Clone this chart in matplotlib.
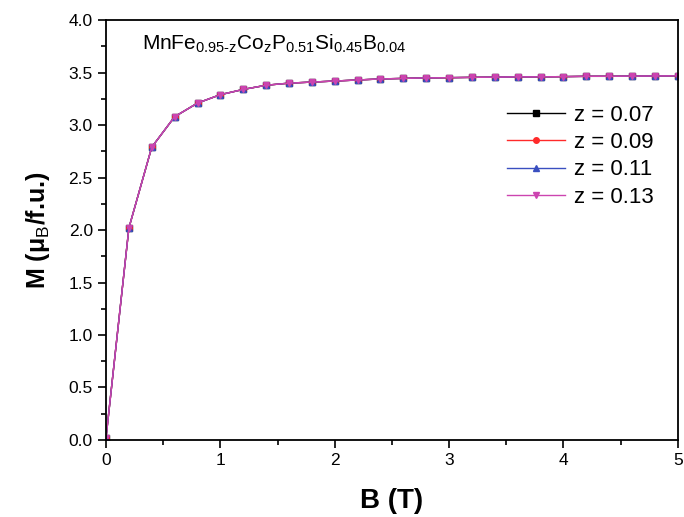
import matplotlib
matplotlib.use("Agg")
import matplotlib.pyplot as plt
from matplotlib.ticker import MultipleLocator, FormatStrFormatter

plt.rcParams['font.family'] = ['Liberation Sans', 'DejaVu Sans']
plt.rcParams['mathtext.fontset'] = 'custom'
plt.rcParams['mathtext.rm'] = 'Liberation Sans'
plt.rcParams['mathtext.it'] = 'Liberation Sans:italic'
plt.rcParams['mathtext.bf'] = 'Liberation Sans:bold'

B = [0.0, 0.2, 0.4, 0.6, 0.8, 1.0, 1.2, 1.4, 1.6, 1.8, 2.0, 2.2, 2.4, 2.6,
     2.8, 3.0, 3.2, 3.4, 3.6, 3.8, 4.0, 4.2, 4.4, 4.6, 4.8, 5.0]
M_007 = [0.02, 2.02, 2.79, 3.08, 3.21, 3.29, 3.34, 3.38, 3.40, 3.41, 3.42, 3.43,
         3.44, 3.445, 3.45, 3.452, 3.455, 3.457, 3.46, 3.46, 3.462, 3.465, 3.465,
         3.467, 3.468, 3.47]
M_009 = [0.02, 2.02, 2.79, 3.08, 3.21, 3.29, 3.34, 3.38, 3.40, 3.41, 3.42, 3.43,
         3.44, 3.445, 3.45, 3.452, 3.455, 3.457, 3.46, 3.46, 3.462, 3.465, 3.465,
         3.467, 3.468, 3.47]
M_011 = [0.02, 2.02, 2.79, 3.08, 3.21, 3.29, 3.34, 3.38, 3.40, 3.41, 3.42, 3.43,
         3.44, 3.445, 3.45, 3.452, 3.455, 3.457, 3.46, 3.46, 3.462, 3.465, 3.465,
         3.467, 3.468, 3.47]
M_013 = [0.02, 2.02, 2.79, 3.08, 3.21, 3.29, 3.34, 3.38, 3.40, 3.41, 3.42, 3.43,
         3.44, 3.445, 3.45, 3.452, 3.455, 3.457, 3.46, 3.46, 3.462, 3.465, 3.465,
         3.467, 3.468, 3.47]
labels = ['z = 0.07', 'z = 0.09', 'z = 0.11', 'z = 0.13']
series = [M_007, M_009, M_011, M_013]
colors = ['#000000', '#ff2a2a', '#3a4fc0', '#cc44b0']
markers = ['s', 'o', '^', 'v']

fig = plt.figure(figsize=(6.84, 5.17), dpi=100)
ax = fig.add_axes([0.155, 0.149, 0.836, 0.812])

for m, lab, c, mk in zip(series, labels, colors, markers):
    ax.plot(B, m, color=c, marker=mk, markersize=4, linewidth=1, label=lab)

ax.set_xlim(0, 5)
ax.set_ylim(0, 4.0)
ax.xaxis.set_major_locator(MultipleLocator(1))
ax.xaxis.set_minor_locator(MultipleLocator(0.5))
ax.yaxis.set_major_locator(MultipleLocator(0.5))
ax.yaxis.set_minor_locator(MultipleLocator(0.25))
ax.yaxis.set_major_formatter(FormatStrFormatter('%.1f'))
ax.tick_params(which='major', direction='out', length=6, width=1.2, labelsize=12.5)
ax.tick_params(which='minor', direction='out', length=3.5, width=1.2)
for s in ax.spines.values():
    s.set_linewidth(1.3)

ax.set_xlabel('B (T)', fontsize=20, fontweight='bold', labelpad=14)
ax.set_ylabel('M (μ$_\\mathrm{B}$/f.u.)', fontsize=18, fontweight='bold', labelpad=12)

ax.text(0.063, 0.929,
        r'MnFe$_\mathrm{0.95\text{-}z}$Co$_\mathrm{z}$P$_\mathrm{0.51}$Si$_\mathrm{0.45}$B$_\mathrm{0.04}$',
        transform=ax.transAxes, fontsize=15, va='baseline', ha='left')

ax.legend(loc='upper right', bbox_to_anchor=(0.985, 0.835), frameon=False, fontsize=16,
          handlelength=2.6, handletextpad=0.4, labelspacing=0.28, borderaxespad=0.3)

fig.savefig('out.png', dpi=100)
